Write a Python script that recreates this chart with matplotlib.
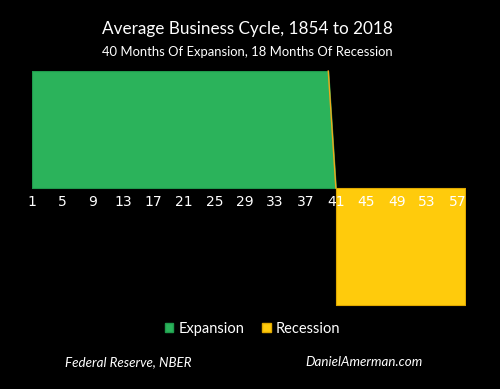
import matplotlib.pyplot as plt
from matplotlib.patches import Patch

# Average business cycle: months, expansion (+1) and recession (-1)
months = list(range(1, 59))
expansion = [1] * 40 + [0] * 18
recession = [0] * 40 + [-1] * 18
tick_months = [1, 5, 9, 13, 17, 21, 25, 29, 33, 37, 41, 45, 49, 53, 57]

green = '#2bb35b'
yellow = '#ffcb0c'
font = 'Lato'

fig = plt.figure(figsize=(5, 3.89), dpi=100, facecolor='black')
# x: month 1 -> 32px, month 58 -> 465px ; y: 0 -> 188px, 117px per unit
ax = fig.add_axes([32 / 500, (389 - 307.3) / 389, 433 / 500, 238.6 / 389])
ax.set_facecolor('black')

# expansion drawn through month 41 so it slopes down to zero
ax.fill_between(months[:41], expansion[:41], 0, color=green,
                edgecolor='#1f9a4c', linewidth=0.8, zorder=1)
ax.plot(months[39:41], expansion[39:41], color='#f0a81c', linewidth=1, zorder=1)
ax.fill_between(months[40:], recession[40:], 0, color=yellow,
                edgecolor='#e0a800', linewidth=0.8, zorder=1)

ax.set_xlim(1, 58)
ax.set_ylim(-1.02, 1.02)
ax.set_yticks([])
ax.set_xticks(tick_months)
ax.set_xticklabels([str(m) for m in tick_months], fontsize=9, family=font)
ax.tick_params(axis='x', length=0, pad=5, labelcolor='white', colors='white')
ax.spines['bottom'].set_position(('data', 0))
ax.set_axisbelow(False)
for s in ax.spines.values():
    s.set_visible(False)
for lab in ax.get_xticklabels():
    lab.set_color('white')
    lab.set_zorder(5)

fig.text(0.495, 1 - 29 / 389, 'Average Business Cycle, 1854 to 2018',
         color='white', fontsize=12.3, ha='center', va='center', family=font)
fig.text(0.495, 1 - 52 / 389, '40 Months Of Expansion, 18 Months Of Recession',
         color='white', fontsize=9.4, ha='center', va='center', family=font)

handles = [Patch(facecolor=green, edgecolor='#1f9a4c', label='Expansion'),
           Patch(facecolor=yellow, edgecolor='#e0a800', label='Recession')]
leg = fig.legend(handles=handles, loc='center', bbox_to_anchor=(0.505, 1 - 329 / 389),
                 ncol=2, frameon=False, handlelength=0.6,
                 handleheight=0.6, handletextpad=0.35, columnspacing=1.2,
                 prop={'family': font, 'size': 10.5})
for t in leg.get_texts():
    t.set_color('white')

fig.text(65 / 500, 1 - 362 / 389, 'Federal Reserve, NBER', color='white',
         fontsize=9.6, style='italic', ha='left', va='center', family=font)
fig.text(305 / 500, 1 - 362 / 389, 'DanielAmerman.com', color='white',
         fontsize=9.6, style='italic', ha='left', va='center', family=font)

fig.savefig('out.png', dpi=100, facecolor='black')
